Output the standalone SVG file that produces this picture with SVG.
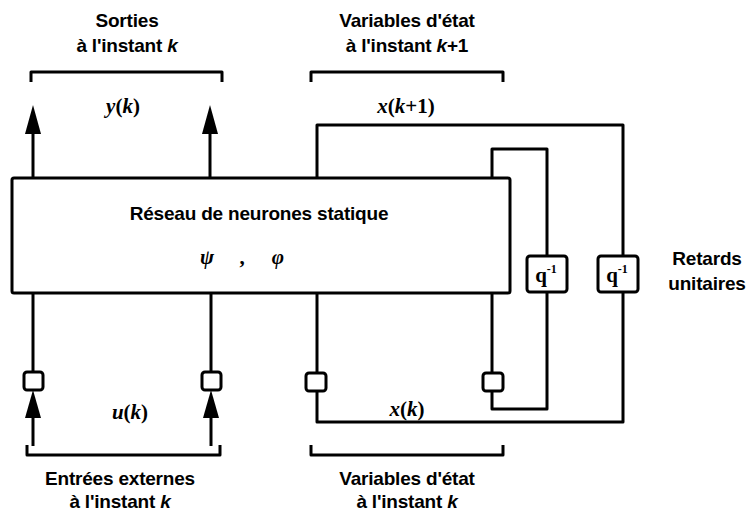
<svg xmlns="http://www.w3.org/2000/svg" width="750" height="516" viewBox="0 0 750 516">
  <defs>
    <style>
      .ln { fill: none; stroke: #000; stroke-width: 3; stroke-linejoin: round; }
      .box { fill: #fff; stroke: #000; stroke-width: 3; }
      .sq { fill: #fff; stroke: #000; stroke-width: 3; }
      .t { font-family: "Liberation Sans", Arial, sans-serif; font-weight: bold; font-size: 19px; fill: #000; text-anchor: middle; letter-spacing: -0.2px; }
      .m { font-family: "Liberation Serif", "Times New Roman", serif; font-weight: bold; font-size: 21px; fill: #000; text-anchor: middle; }
      .i { font-style: italic; }
    </style>
  </defs>

  <!-- connectors -->
  <g id="connectors">
    <!-- outputs y(k) -->
    <line class="ln" x1="33" y1="178" x2="33" y2="132"/>
    <path d="M33 105 L41 134 L25 134 Z"/>
    <line class="ln" x1="210" y1="178" x2="210" y2="132"/>
    <path d="M210 105 L218 134 L202 134 Z"/>

    <!-- external inputs u(k) -->
    <line class="ln" x1="33" y1="293" x2="33" y2="372"/>
    <line class="ln" x1="33" y1="416" x2="33" y2="446"/>
    <path d="M33 390 L41 418 L25 418 Z"/>
    <line class="ln" x1="211" y1="293" x2="211" y2="372"/>
    <line class="ln" x1="211" y1="416" x2="211" y2="446"/>
    <path d="M211 390 L219 418 L203 418 Z"/>

    <!-- outer delay loop -->
    <polyline class="ln" points="317,178 317,125 623,125 623,256"/>
    <polyline class="ln" points="623,292 623,422 317,422 317,391"/>
    <line class="ln" x1="317" y1="293" x2="317" y2="372"/>

    <!-- inner delay loop -->
    <polyline class="ln" points="492,178 492,149 547,149 547,256"/>
    <polyline class="ln" points="547,292 547,409 492,409 492,391"/>
    <line class="ln" x1="492" y1="293" x2="492" y2="372"/>

    <!-- brackets -->
    <polyline class="ln" points="31,82 31,72 222,72 222,82"/>
    <polyline class="ln" points="311,82 311,72 503,72 503,82"/>
    <polyline class="ln" points="27,445 27,455 220,455 220,445"/>
    <polyline class="ln" points="311,445 311,455 503,455 503,445"/>
  </g>

  <!-- static neural network -->
  <g id="network">
    <rect class="box" x="12" y="178" width="498" height="115" rx="2"/>
    <text class="t" x="259" y="220">Réseau de neurones statique</text>
    <text class="m i" x="207" y="264" font-size="27">ψ</text>
    <text class="m" x="242" y="264" font-size="26">,</text>
    <text class="m i" x="278" y="264" font-size="27">φ</text>
  </g>

  <!-- unit delays -->
  <g id="delay-inner">
    <rect class="box" x="527" y="256" width="40" height="36" rx="3"/>
    <text class="m" x="546" y="282" font-size="22">q<tspan font-size="12" dy="-9">-1</tspan></text>
  </g>
  <g id="delay-outer">
    <rect class="box" x="598" y="256" width="40" height="36" rx="3"/>
    <text class="m" x="617" y="282" font-size="22">q<tspan font-size="12" dy="-9">-1</tspan></text>
  </g>

  <!-- input sampling points -->
  <g id="in-u1"><rect class="sq" x="24" y="372" width="19" height="18" rx="3"/></g>
  <g id="in-u2"><rect class="sq" x="202" y="372" width="19" height="18" rx="3"/></g>
  <g id="in-x1"><rect class="sq" x="306" y="373" width="20" height="18" rx="3"/></g>
  <g id="in-x2"><rect class="sq" x="483" y="373" width="20" height="18" rx="3"/></g>

  <!-- labels -->
  <g id="labels">
    <text class="t" x="127" y="27">Sorties</text>
    <text class="t" x="127" y="52">à l'instant <tspan class="i">k</tspan></text>
    <text class="t" x="407" y="27">Variables d'état</text>
    <text class="t" x="407" y="52">à l'instant <tspan class="i">k</tspan>+1</text>
    <text class="m" x="123" y="113"><tspan class="i">y</tspan>(<tspan class="i">k</tspan>)</text>
    <text class="m" x="406" y="113"><tspan class="i">x</tspan>(<tspan class="i">k</tspan>+1)</text>
    <text class="m" x="130" y="419"><tspan class="i">u</tspan>(<tspan class="i">k</tspan>)</text>
    <text class="m" x="407" y="416"><tspan class="i">x</tspan>(<tspan class="i">k</tspan>)</text>
    <text class="t" x="120" y="485">Entrées externes</text>
    <text class="t" x="120" y="508">à l'instant <tspan class="i">k</tspan></text>
    <text class="t" x="407" y="485">Variables d'état</text>
    <text class="t" x="407" y="508">à l'instant <tspan class="i">k</tspan></text>
    <text class="t" x="707" y="265">Retards</text>
    <text class="t" x="707" y="290">unitaires</text>
  </g>
</svg>
